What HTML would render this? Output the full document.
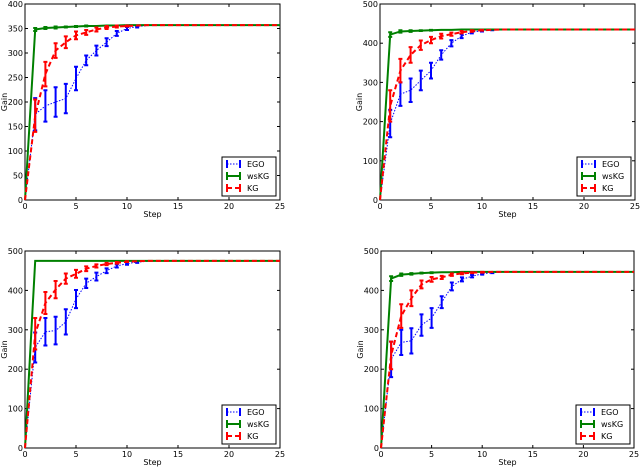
<!DOCTYPE html>
<html><head><meta charset="utf-8"><style>
body{margin:0;background:#fff;width:640px;height:467px;overflow:hidden}
svg{display:block;font-family:"DejaVu Sans","Liberation Sans",sans-serif}
</style></head><body>
<svg id="c" width="640" height="467"></svg>
<script>
const steps=[0,1,2,3,4,5,6,7,8,9,10,11,12,13,14,15,16,17,18,19,20,21,22,23,24,25];
const xTicks=[0,5,10,15,20,25];
// panel 1
const ego1=[0,175,192,200,207,248,285,305,322,340,350,354,356,357,357,357,357,357,357,357,357,357,357,357,357,357];
const ego1Err=[0,33,32,30,30,24,10,10,8,5,3,2,0,0,0,0,0,0,0,0,0,0,0,0,0,0];
const ws1=[0,348,351,352,353,354,355,355,356,356,357,357,357,357,357,357,357,357,357,357,357,357,357,357,357,357];
const ws1Err=[0,3,2,2,1,1,1,0,0,0,0,0,0,0,0,0,0,0,0,0,0,0,0,0,0,0];
const kg1=[0,172,257,305,322,336,342,348,352,354,355,356,357,357,357,357,357,357,357,357,357,357,357,357,357,357];
const kg1Err=[0,33,25,15,12,8,5,4,3,2,1,0,0,0,0,0,0,0,0,0,0,0,0,0,0,0];
const yTicks1=[0,50,100,150,200,250,300,350,400];
// panel 2
const ego2=[0,195,270,280,305,330,370,400,418,428,432,434,435,435,435,435,435,435,435,435,435,435,435,435,435,435];
const ego2Err=[0,35,30,30,25,20,12,8,5,3,2,1,0,0,0,0,0,0,0,0,0,0,0,0,0,0];
const ws2=[0,422,430,431,432,433,434,434,435,435,435,435,435,435,435,435,435,435,435,435,435,435,435,435,435,435];
const ws2Err=[0,6,3,2,1,1,0,0,0,0,0,0,0,0,0,0,0,0,0,0,0,0,0,0,0,0];
const kg2=[0,240,330,370,395,408,418,423,428,431,433,434,435,435,435,435,435,435,435,435,435,435,435,435,435,435];
const kg2Err=[0,40,30,20,12,8,6,4,3,2,1,0,0,0,0,0,0,0,0,0,0,0,0,0,0,0];
const yTicks2=[0,100,200,300,400,500];
// panel 3
const ego3=[0,255,295,298,320,378,418,435,450,462,468,472,474,475,475,475,475,475,475,475,475,475,475,475,475,475];
const ego3Err=[0,38,35,35,32,23,12,10,6,4,3,2,0,0,0,0,0,0,0,0,0,0,0,0,0,0];
const ws3=[0,475,475,475,475,475,475,475,475,475,475,475,475,475,475,475,475,475,475,475,475,475,475,475,475,475];
const ws3Err=[0,0,0,0,0,0,0,0,0,0,0,0,0,0,0,0,0,0,0,0,0,0,0,0,0,0];
const kg3=[0,290,368,402,430,442,455,462,467,470,473,474,475,475,475,475,475,475,475,475,475,475,475,475,475,475];
const kg3Err=[0,40,28,22,13,10,6,4,3,2,1,0,0,0,0,0,0,0,0,0,0,0,0,0,0,0];
const yTicks3=[0,100,200,300,400,500];
// panel 4
const ego4=[0,225,268,272,312,330,370,410,428,436,442,445,447,447,447,447,447,447,447,447,447,447,447,447,447,447];
const ego4Err=[0,45,32,32,27,25,15,10,5,3,2,1,0,0,0,0,0,0,0,0,0,0,0,0,0,0];
const ws4=[0,430,440,442,444,445,446,446,447,447,447,447,447,447,447,447,447,447,447,447,447,447,447,447,447,447];
const ws4Err=[0,6,3,2,1,1,0,0,0,0,0,0,0,0,0,0,0,0,0,0,0,0,0,0,0,0];
const kg4=[0,235,335,380,415,428,433,440,443,445,446,447,447,447,447,447,447,447,447,447,447,447,447,447,447,447];
const kg4Err=[0,35,30,20,10,6,4,3,2,1,1,0,0,0,0,0,0,0,0,0,0,0,0,0,0,0];
const yTicks4=[0,100,200,300,400,500];

const NS='http://www.w3.org/2000/svg';
const svg=document.getElementById('c');
function mk(tag,attrs,parent){const e=document.createElementNS(NS,tag);for(const k in attrs)e.setAttribute(k,attrs[k]);(parent||svg).appendChild(e);return e;}

function panel(id,L,R,T,B,yMax,yTicks,series){
  const g=mk('g',{});
  
  
  const xs=v=>L+(v-0)/25*(R-L);
  const ys=v=>B-v/yMax*(B-T);
  const frame=mk('rect',{x:L,y:T,width:R-L,height:B-T,fill:'none',stroke:'#000','stroke-width':1},g);
  
  
  xTicks.forEach(t=>{
    const x=xs(t);
    mk('line',{x1:x,y1:B,x2:x,y2:B-3,stroke:'#000'},g);
    mk('line',{x1:x,y1:T,x2:x,y2:T+3,stroke:'#000'},g);
    const tx=mk('text',{x:x,y:B+9,'font-size':8,'text-anchor':'middle'},g);
    tx.textContent=t;
    
    
  });
  yTicks.forEach(t=>{
    const y=ys(t);
    mk('line',{x1:L,y1:y,x2:L+3,y2:y,stroke:'#000'},g);
    mk('line',{x1:R,y1:y,x2:R-3,y2:y,stroke:'#000'},g);
    const tx=mk('text',{x:L-2,y:y+3,'font-size':8,'text-anchor':'end'},g);
    tx.textContent=t;
    
    
  });
  const xl=mk('text',{x:(L+R)/2,y:B+17,'font-size':8,'text-anchor':'middle'},g);
  xl.textContent='Step';
  
  
  const yl=mk('text',{x:0,y:0,'font-size':8,'text-anchor':'middle',transform:`translate(${L-18},${(T+B)/2}) rotate(-90)`},g);
  yl.textContent='Gain';
  
  
  series.forEach(s=>{
    const pts=s.vals.map((v,i)=>xs(steps[i])+','+ys(v)).join(' ');
    const pl=mk('polyline',{points:pts,fill:'none',stroke:s.color,'stroke-width':s.w,'stroke-dasharray':s.dash},g);
    
    
    s.vals.forEach((v,i)=>{
      const e=s.err[i]; if(!e) return;
      const x=xs(steps[i]);
      const eb=mk('path',{d:`M${x},${ys(v-e)}V${ys(v+e)}M${x-2},${ys(v-e)}h4M${x-2},${ys(v+e)}h4`,stroke:s.color,'stroke-width':2,fill:'none'},g);
      
      
    });
  });
  const lw=54,lh=39,lx=R-lw-4,ly=B-lh-4;
  const leg=mk('g',{},g);
  
  
  mk('rect',{x:lx,y:ly,width:lw,height:lh,fill:'#fff',stroke:'#000'},leg);
  series.forEach((s,k)=>{
    const y=ly+7+k*12;
    mk('line',{x1:lx+5,y1:y,x2:lx+18,y2:y,stroke:s.color,'stroke-width':s.w,'stroke-dasharray':s.dash},leg);
    mk('path',{d:`M${lx+5},${y-4}v8M${lx+18},${y-4}v8`,stroke:s.color,'stroke-width':2},leg);
    const t=mk('text',{x:lx+25,y:y+3,'font-size':8},leg);
    t.textContent=s.label;
    
    
  });
}
function S(e,ee,w,we,k,ke){return [
  {name:'ego',label:'EGO',vals:e,err:ee,color:'#0000ff',w:1,dash:'1.5,1.5'},
  {name:'wskg',label:'wsKG',vals:w,err:we,color:'#008000',w:2,dash:''},
  {name:'kg',label:'KG',vals:k,err:ke,color:'#ff0000',w:2,dash:'5,3'}];}
panel('top-left',25,280,4,200,400,yTicks1,S(ego1,ego1Err,ws1,ws1Err,kg1,kg1Err));
panel('top-right',380,635,4,200,500,yTicks2,S(ego2,ego2Err,ws2,ws2Err,kg2,kg2Err));
panel('bottom-left',25,280,251,448,500,yTicks3,S(ego3,ego3Err,ws3,ws3Err,kg3,kg3Err));
panel('bottom-right',381,634,251,448,500,yTicks4,S(ego4,ego4Err,ws4,ws4Err,kg4,kg4Err));
</script>
</body></html>
